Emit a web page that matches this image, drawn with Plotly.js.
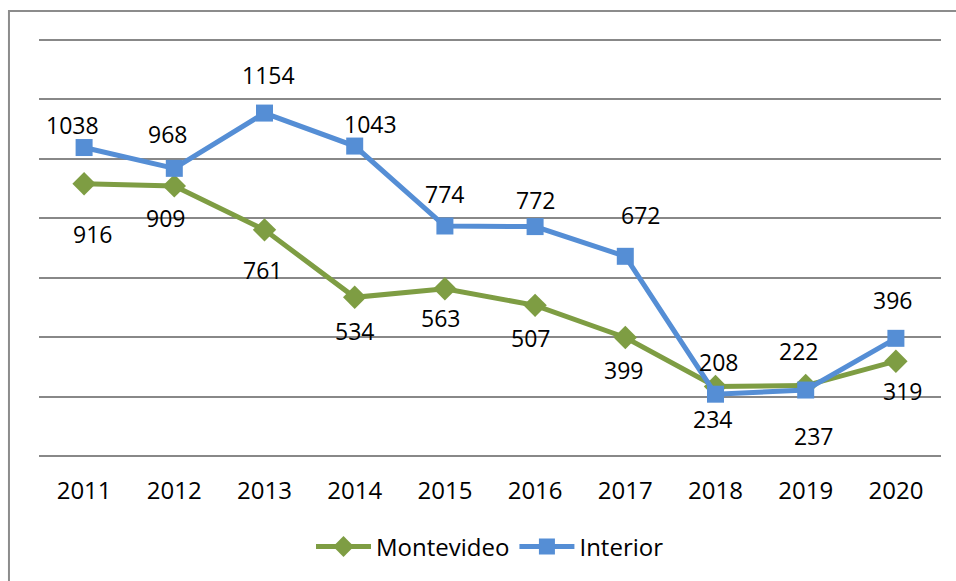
<!DOCTYPE html>
<html>
<head>
<meta charset="utf-8">
<script src="https://cdn.plot.ly/plotly-3.0.1.min.js"></script>
<style>html,body{margin:0;padding:0;background:#fff;}#chart{width:956px;height:581px;}</style>
</head>
<body>
<div id="chart"></div>
<script>
var years = ['2011','2012','2013','2014','2015','2016','2017','2018','2019','2020'];
var montevideo = [916, 909, 761, 534, 563, 507, 399, 234, 237, 319];
var interior = [1038, 968, 1154, 1043, 774, 772, 672, 208, 222, 396];

// label offsets (px) relative to each point
var intDx = [-12, -7, 4, 16, 0, 0, 15, 3, -7, -3];
var intDy = [23, 34, 38, 22, 32, 27, 41, 32, 39, 38];
var monDx = [8, -9, -2, 0, -4, -5, -2, -3, 8, 7];
var monDy = [-50, -32, -40, -34, -29, -33, -33, -33, -50, -30];

var GREEN = '#7E9D43', BLUE = '#558ED5';
var FONT = 'Open Sans, sans-serif';

var traces = [
  {x: years, y: montevideo, name: 'Montevideo', type: 'scatter', mode: 'lines+markers',
   line: {color: GREEN, width: 5}, marker: {symbol: 'diamond', size: 18, color: GREEN}},
  {x: years, y: interior, name: 'Interior', type: 'scatter', mode: 'lines+markers',
   line: {color: BLUE, width: 5}, marker: {symbol: 'square', size: 17, color: BLUE}}
];

var annotations = [];
years.forEach(function (yr, i) {
  annotations.push({x: i, y: interior[i], xref: 'x', yref: 'y', text: String(interior[i]),
    showarrow: false, xshift: intDx[i], yshift: intDy[i], font: {family: FONT, size: 23, color: '#000'}});
  annotations.push({x: i, y: montevideo[i], xref: 'x', yref: 'y', text: String(montevideo[i]),
    showarrow: false, xshift: monDx[i], yshift: monDy[i], font: {family: FONT, size: 23, color: '#000'}});
});

var layout = {
  width: 956, height: 581,
  margin: {l: 39, r: 15, t: 37, b: 125},
  paper_bgcolor: '#fff', plot_bgcolor: '#fff',
  font: {family: FONT, size: 23, color: '#000'},
  showlegend: true,
  legend: {orientation: 'h', x: 0.5, xanchor: 'center', y: -0.217, yanchor: 'middle',
           itemwidth: 55, font: {family: FONT, size: 24, color: '#000'}, traceorder: 'normal'},
  xaxis: {type: 'category', range: [-0.5, 9.5], showgrid: false, zeroline: false,
          showline: false, ticks: '', ticklabelstandoff: 18, tickfont: {family: FONT, size: 24, color: '#000'}},
  yaxis: {range: [0, 1410], dtick: 200, tick0: 0, showgrid: true, gridcolor: '#888', gridwidth: 2,
          zeroline: true, zerolinecolor: '#888', zerolinewidth: 2, showticklabels: false, ticks: ''},
  shapes: [{type: 'rect', xref: 'paper', yref: 'paper', x0: -0.0333, x1: 1.1, y0: -0.5, y1: 1.062,
            line: {color: '#8c8c8c', width: 2}, fillcolor: 'rgba(0,0,0,0)', layer: 'below'}],
  annotations: annotations
};

Plotly.newPlot('chart', traces, layout, {displayModeBar: false, staticPlot: true});
</script>
</body>
</html>
